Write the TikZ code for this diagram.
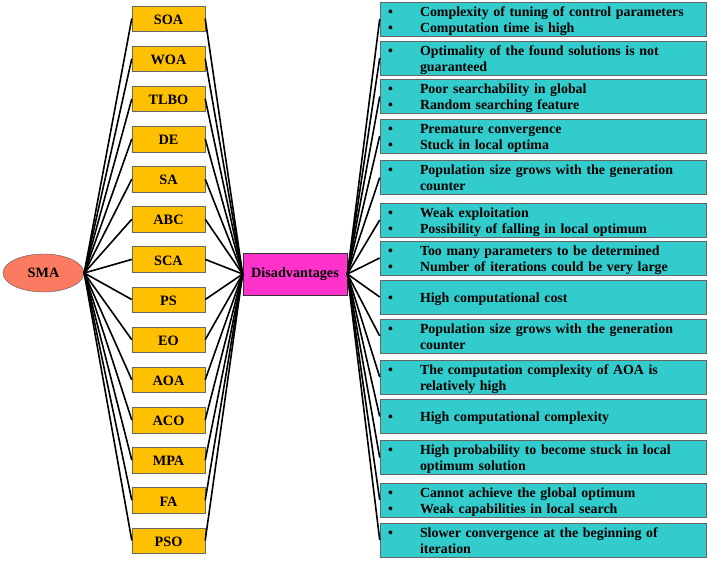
\documentclass[tikz,border=0pt]{standalone}
\usepackage{fontspec}
\setmainfont{Liberation Serif}
\usetikzlibrary{shapes.geometric}
\definecolor{smac}{HTML}{FA7A62}
\definecolor{goldc}{HTML}{FFC000}
\definecolor{magc}{HTML}{FF33CC}
\definecolor{tealc}{HTML}{33CCCC}
\newcommand{\rb}[1]{\raisebox{-2pt}[\height][\depth]{\begin{tabular}{@{}p{32pt}@{}l@{}}#1\end{tabular}}}
\newcommand{\lb}[1]{\raisebox{-1pt}[\height][\depth]{#1}}
\begin{document}
\begin{tikzpicture}[x=1pt,y=-1pt,
  algo/.style={draw=gray!80!black,fill=goldc,minimum width=73pt,minimum height=25.5pt,inner sep=0pt,font=\fontsize{14.3}{16}\bfseries},
  disbox/.style={draw=black!80,line width=0.8pt,fill=magc,minimum width=104pt,minimum height=42pt,inner sep=0pt,font=\fontsize{14.2}{16}\bfseries},
  rbox/.style={draw=gray!80!black,line width=0.6pt,fill=tealc,minimum width=326pt,minimum height=34pt,inner sep=0pt,text width=310pt,align=left,font=\fontsize{13.9}{16}\bfseries},
  smanode/.style={ellipse,draw=gray!70!black,fill=smac,minimum width=81pt,minimum height=38pt,inner sep=0pt,font=\fontsize{14.2}{16}\bfseries},
  link/.style={line width=1.6pt,black}]
\useasboundingbox (0,0) rectangle (708,560);
\node[smanode] (sma) at (43.5,273) {SMA};
\node[disbox] (dis) at (295,274) {Disadvantages};
\foreach \n [count=\i from 0] in {SOA,WOA,TLBO,DE,SA,ABC,SCA,PS,EO,AOA,ACO,MPA,FA,PSO}{
  \node[algo] (a\i) at (168.5,{18.5+40.15*\i}) {\lb{\n}};
  \draw[link] (sma.east) -- (a\i.west);
  \draw[link] (a\i.east) -- (dis.west);
}
\node[rbox] (r0) at (543,19) {\rb{\textbullet & Complexity of tuning of control parameters\\ \textbullet & Computation time is high}};
\node[rbox] (r1) at (543,58) {\rb{\textbullet & Optimality of the found solutions is not\\ & guaranteed}};
\node[rbox] (r2) at (543,96.5) {\rb{\textbullet & Poor searchability in global\\ \textbullet & Random searching feature}};
\node[rbox] (r3) at (543,136) {\rb{\textbullet & Premature convergence\\ \textbullet & Stuck in local optima}};
\node[rbox] (r4) at (543,177.5) {\rb{\textbullet & Population size grows with the generation\\ & counter}};
\node[rbox] (r5) at (543,220) {\rb{\textbullet & Weak exploitation\\ \textbullet & Possibility of falling in local optimum}};
\node[rbox] (r6) at (543,258) {\rb{\textbullet & Too many parameters to be determined\\ \textbullet & Number of iterations could be very large}};
\node[rbox] (r7) at (543,297) {\rb{\textbullet & High computational cost}};
\node[rbox] (r8) at (543,336) {\rb{\textbullet & Population size grows with the generation\\ & counter}};
\node[rbox] (r9) at (543,377) {\rb{\textbullet & The computation complexity of AOA is\\ & relatively high}};
\node[rbox] (r10) at (543,416.5) {\rb{\textbullet & High computational complexity}};
\node[rbox] (r11) at (543,457.5) {\rb{\textbullet & High probability to become stuck in local\\ & optimum solution}};
\node[rbox] (r12) at (543,500) {\rb{\textbullet & Cannot achieve the global optimum\\ \textbullet & Weak capabilities in local search}};
\node[rbox] (r13) at (543,540) {\rb{\textbullet & Slower convergence at the beginning of\\ & iteration}};
\foreach \i in {0,...,13}{
  \draw[link] (dis.east) -- (r\i.west);
}
\end{tikzpicture}
\end{document}
